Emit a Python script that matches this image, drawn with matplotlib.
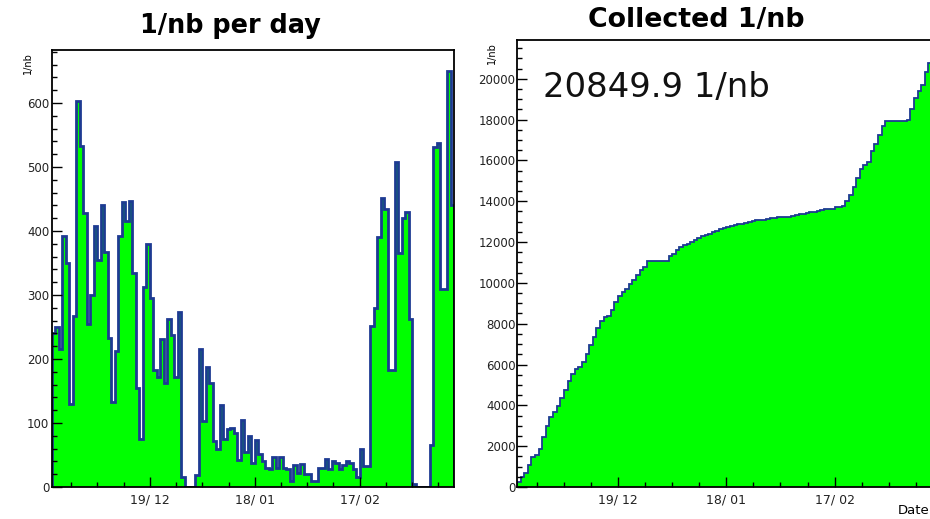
import numpy as np
import matplotlib
matplotlib.use('Agg')
import matplotlib.pyplot as plt
from matplotlib.ticker import FixedLocator, MultipleLocator

# Integrated luminosity per day (1/nb), one bin per day starting 21/11
daily_lumi = [
    240, 250, 215, 393, 350, 130, 268, 603, 533, 428,
    255, 300, 408, 355, 440, 368, 233, 133, 212, 392,
    445, 415, 447, 335, 155, 75, 313, 380, 295, 183,
    172, 232, 163, 262, 238, 172, 273, 15, 0, 0,
    0, 18, 215, 103, 187, 162, 72, 60, 128, 75,
    90, 92, 85, 42, 105, 55, 80, 38, 73, 52,
    40, 30, 28, 47, 30, 47, 30, 28, 10, 35,
    22, 36, 20, 20, 10, 10, 30, 30, 43, 28,
    40, 37, 28, 35, 40, 37, 28, 15, 60, 33,
    33, 252, 280, 390, 452, 435, 183, 183, 508, 365,
    420, 430, 263, 5, 0, 0, 0, 0, 65, 532,
    538, 310, 310, 650, 440,
]

# date axis: day index of labelled ticks
date_tick_days = [28, 58, 88]
date_tick_labels = ['19/ 12', '18/ 01', '17/ 02']

total_text = '20849.9 1/nb'

FILL = '#00ff00'
LINE = '#1d3a92'

daily = np.array(daily_lumi, dtype=float)
collected = np.cumsum(daily)
edges = np.arange(len(daily) + 1)

fig = plt.figure(figsize=(9.3, 5.19), dpi=100)
ax1 = fig.add_axes([0.0559, 0.0617, 0.4323, 0.8420])
ax2 = fig.add_axes([0.5559, 0.0617, 0.4463, 0.8613])


def style_axis(ax, ymax, ymajor, yminor):
    ax.set_xlim(edges[0], edges[-1])
    ax.set_ylim(0, ymax)
    ax.xaxis.set_major_locator(FixedLocator(date_tick_days))
    ax.set_xticklabels(date_tick_labels)
    ax.xaxis.set_minor_locator(MultipleLocator(7.5, offset=5.5))
    ax.yaxis.set_major_locator(MultipleLocator(ymajor))
    ax.yaxis.set_minor_locator(MultipleLocator(yminor))
    ax.tick_params(which='both', direction='in', top=False, right=False,
                   colors='black', labelcolor='#222222', width=1.0)
    ax.tick_params(which='major', length=7)
    ax.tick_params(which='minor', length=3.5)
    ax.tick_params(axis='x', labelsize=9, pad=5)
    ax.tick_params(axis='y', labelsize=8.5, pad=2)
    for s in ax.spines.values():
        s.set_linewidth(1.3)
    ax.text(-0.06, 0.995, '1/nb', rotation=90, ha='center', va='top',
            fontsize=7, transform=ax.transAxes)


# Left: 1/nb per day
ax1.stairs(daily, edges, fill=True, color=FILL, baseline=0)
ax1.stairs(daily, edges, color=LINE, linewidth=2.0, baseline=0)
style_axis(ax1, 683, 100, 20)

# Right: collected 1/nb
ax2.stairs(collected, edges, fill=True, color=FILL, baseline=0)
ax2.stairs(collected, edges, color=LINE, linewidth=1.3, baseline=0)
style_axis(ax2, 21900, 2000, 500)
ax2.tick_params(axis='y', pad=1)
ax2.text(0.063, 0.872, total_text, fontsize=24.4, ha='left', va='baseline',
         transform=ax2.transAxes, color='#111111')

fig.text(0.248, 1 - 33 / 519, '1/nb per day', ha='center', va='baseline',
         fontsize=18.4, fontweight='bold')
fig.text(0.749, 1 - 27 / 519, 'Collected 1/nb', ha='center', va='baseline',
         fontsize=19.3, fontweight='bold')
fig.text(898 / 930, 1 - 514 / 519, 'Date', ha='left', va='baseline', fontsize=9.5)

fig.savefig('out.png', dpi=100)
